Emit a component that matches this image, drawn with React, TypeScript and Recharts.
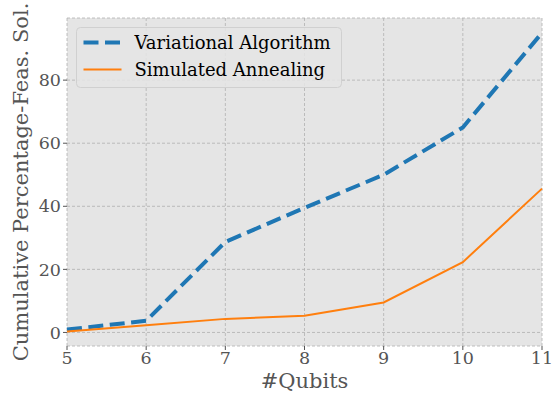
import React from "react";
import { LineChart, Line, XAxis, YAxis, CartesianGrid } from "recharts";

const qubits = [5, 6, 7, 8, 9, 10, 11];
const variational = [0.9, 3.7, 28.7, 39.5, 50.0, 65.0, 95.0];
const annealing = [0.3, 2.3, 4.3, 5.3, 9.5, 22.3, 45.6];
const xTicks = [5, 6, 7, 8, 9, 10, 11];
const yTicks = [0, 20, 40, 60, 80];
const seriesNames = ["Variational Algorithm", "Simulated Annealing"];

const data = qubits.map((q, i) => ({ q, va: variational[i], sa: annealing[i] }));

const FONT = "DejaVu Serif";

const LegendBox = () => {
  const items = [
    { label: seriesNames[0], color: "#1f77b4", dashed: true, w: 4 },
    { label: seriesNames[1], color: "#ff7f0e", dashed: false, w: 2 },
  ];
  return (
    <svg width={267} height={62} style={{ position: "absolute", left: 75.5, top: 26.5, overflow: "visible" }}>
      <rect x={0.5} y={0.5} width={265} height={60} rx={4} ry={4} fill="#E5E5E5" fillOpacity={0.85} stroke="#d0d0d0" strokeWidth={1} />
      {items.map((it, i) => {
        const cy = 15.5 + i * 27;
        return (
          <g key={it.label}>
            <line
              x1={7.5}
              y1={cy}
              x2={45.5}
              y2={cy}
              stroke={it.color}
              strokeWidth={it.w}
              strokeDasharray={it.dashed ? "15 6.5" : undefined}
            />
            <text x={58.5} y={cy} dominantBaseline="central" fontFamily={FONT} fontSize={18} fill="#000">
              {it.label}
            </text>
          </g>
        );
      })}
    </svg>
  );
};

const YLabel = (props: any) => {
  const vb = props.viewBox || {};
  const cx = 21;
  const cy = vb.y + vb.height / 2;
  return (
    <text
      x={cx}
      y={cy}
      transform={`rotate(-90, ${cx}, ${cy})`}
      textAnchor="middle"
      dominantBaseline="central"
      fontFamily={FONT}
      fontSize={21}
      fill="#555555"
    >
      Cumulative Percentage-Feas. Sol.
    </text>
  );
};

const XLabel = (props: any) => {
  const vb = props.viewBox || {};
  const cx = vb.x + vb.width / 2;
  return (
    <text
      x={cx}
      y={381}
      textAnchor="middle"
      dominantBaseline="central"
      fontFamily={FONT}
      fontSize={21}
      fill="#555555"
    >
      #Qubits
    </text>
  );
};

export default function App() {
  return (
    <div style={{ position: "absolute", left: 0, top: 0, width: 554, height: 393, background: "#fff" }}>
      <LineChart width={554} height={393} data={data} margin={{ top: 18, right: 12, left: 0, bottom: 0 }}>
        <CartesianGrid fill="#E5E5E5" stroke="#b0b0b0" strokeDasharray="3 2" strokeWidth={0.8} />
        <XAxis
          dataKey="q"
          type="number"
          domain={[5, 11]}
          ticks={xTicks}
          height={47}
          axisLine={false}
          tickSize={4}
          tickLine={{ stroke: "#555555" }}
          tick={{ fill: "#555555", fontFamily: FONT, fontSize: 17.5 }}
          label={<XLabel />}
        />
        <YAxis
          type="number"
          domain={[-4.3, 99.7]}
          ticks={yTicks}
          width={67}
          axisLine={false}
          allowDataOverflow
          tickSize={4}
          tickLine={{ stroke: "#555555" }}
          tick={{ fill: "#555555", fontFamily: FONT, fontSize: 17.5 }}
          label={<YLabel />}
        />
        <Line
          name={seriesNames[0]}
          dataKey="va"
          stroke="#1f77b4"
          strokeWidth={4}
          strokeDasharray="15 6.5"
          dot={false}
          activeDot={false}
          isAnimationActive={false}
          type="linear"
        />
        <Line
          name={seriesNames[1]}
          dataKey="sa"
          stroke="#ff7f0e"
          strokeWidth={2}
          dot={false}
          activeDot={false}
          isAnimationActive={false}
          type="linear"
        />
      </LineChart>
      <LegendBox />
    </div>
  );
}
